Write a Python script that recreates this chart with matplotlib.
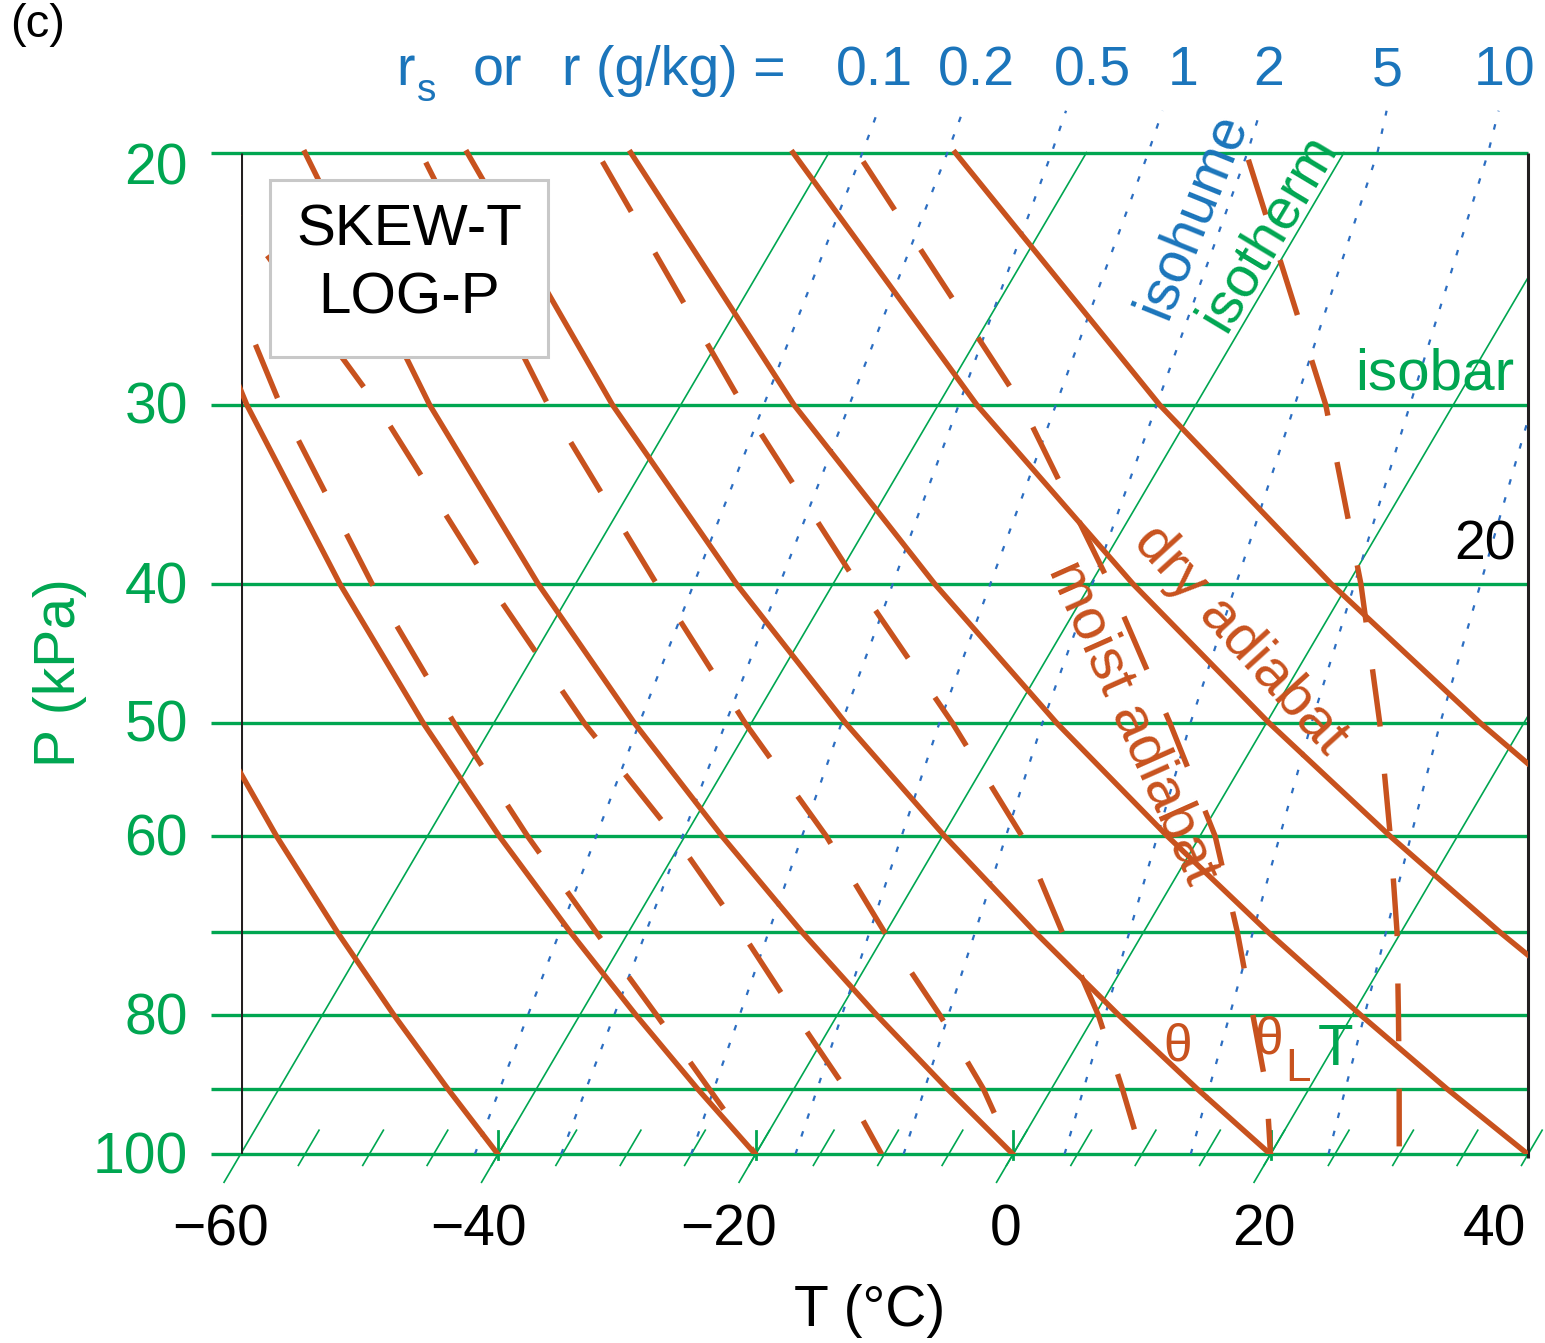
import numpy as np
import matplotlib
matplotlib.use("Agg")
import matplotlib.pyplot as plt
from matplotlib.patches import Rectangle

plt.rcParams['font.family'] = ['Liberation Sans', 'DejaVu Sans']
plt.rcParams['lines.scale_dashes'] = False

W, H = 1545, 1343
SKEW = 28.4          # degC of x shift per unit ln(100/P)

BROWN = '#C8521E'
GREEN = '#00A651'
BLUE = '#1B75BB'
DOT_BLUE = '#2C6EC2'

# pressure levels (kPa) where the adiabats were read
p_levels = [100, 90, 80, 70, 60, 50, 40, 30, 20]

# dry adiabats (solid), T in degC at each level
dry_T = [
    [-40.0, -46.9, -54.4, -62.6, -71.7, -81.9, -93.7, -107.9, -125.9],
    [-20.0, -27.5, -35.6, -44.5, -54.4, -65.5, -78.3, -93.7, -113.3],
    [0.0, -8.1, -16.9, -26.5, -37.1, -49.1, -62.9, -79.5, -100.7],
    [20.0, 11.3, 1.9, -8.4, -19.8, -32.7, -47.5, -65.3, -88.1],
    [40.0, 30.7, 20.7, 9.7, -2.5, -16.3, -32.1, -51.2, -75.4],
    [60.0, 50.1, 39.4, 27.7, 14.8, 0.2, -16.7, -37.0, -62.8],
    [80.0, 69.5, 58.2, 45.8, 32.1, 16.6, -1.3, -22.8, -50.2],
]

# moist adiabats (dashed), T in degC at each level
moist_T = [
    [-20.0, -26.6, -34.0, -42.5, -52.2, -63.1, -75.8, -91.1, -110.7],
    [-10.2, -16.0, -23.2, -31.2, -40.8, -53.0, -66.7, -83.6, -109.5],
    [0.0, -5.3, -12.0, -20.1, -29.0, -40.5, -53.7, -70.3, -91.7],
    [10.0, 5.5, 0.3, -6.3, -13.8, -24.4, -38.1, -55.2, -78.0],
    [20.0, 16.7, 12.3, 7.3, 1.2, -7.5, -18.5, -33.5, -57.8],
    [30.0, 27.0, 23.6, 19.7, 14.8, 8.8, 1.0, -9.9, -27.6],
]
moist_dash_offset = [36, 14, 43, 57, 16, 70]

# isohumes (dotted), mixing ratio in g/kg, T in degC at r_p
r_values = [0.1, 0.2, 0.5, 1, 2, 5, 10, 20]
r_p = [100, 50, 20, 18.7]
r_T = [
    [-41.8, -48.7, -57.4, -58.1],
    [-35.1, -42.0, -50.8, -51.5],
    [-25.0, -33.0, -42.7, -43.5],
    [-16.9, -25.4, -35.2, -36.0],
    [-8.5, -17.4, -27.5, -28.4],
    [4.0, -5.9, -17.4, -18.6],
    [13.8, 3.5, -8.8, -9.9],
    [24.5, 13.5, 0.3, -0.5],
]
r_labels = ['0.1', '0.2', '0.5', '1', '2', '5', '10']
r_label_x = [874, 976, 1093, 1183, 1269, 1387, 1505]

isobars = [20, 30, 40, 50, 60, 70, 80, 90, 100]
isobar_labels = [20, 30, 40, 50, 60, 80, 100]
isotherms = [-60, -40, -20, 0, 20]
t_labels = ['\u221260', '\u221240', '\u221220', '0', '20', '40']
t_label_x = [221, 479, 729, 1006, 1264, 1494]


def skew(T, p):
    return np.asarray(T, float) + SKEW * np.log(100.0 / np.asarray(p, float))


def fx(px):
    return px / W


def fy(py):
    return 1 - py / H


fig = plt.figure(figsize=(W / 100, H / 100), dpi=100)
ax = fig.add_axes([fx(240.5), fy(1154.3), (1528 - 240.5) / W, (1154.3 - 100) / H])
ax.set_xlim(-60, 40)
ax.set_yscale('log')
ax.set_ylim(100, 18.38)
ax.set_axis_off()

# isotherms
for T in isotherms:
    ax.plot(skew([T, T], [100, 20]), [100, 20], color=GREEN, lw=1.2, zorder=1)
    ax.plot(skew([T, T], [100, 104.6]), [100, 104.6], color=GREEN, lw=1.2,
            zorder=1, clip_on=False)
for T in np.arange(-55, 41, 5):
    ax.plot(skew([T, T], [101.8, 96.2]), [101.8, 96.2], color=GREEN, lw=1.2,
            zorder=1, clip_on=False)
for T in [-40, -20, 0, 20]:
    ax.plot([T, T], [100.8, 96.4], color=GREEN, lw=2, zorder=1, clip_on=False)

# isobars
for p in isobars:
    ax.plot([-62.3, 40], [p, p], color=GREEN, lw=2.4, zorder=2, clip_on=False,
            solid_capstyle='butt')
for p in isobar_labels:
    dy = -23 if p == 20 else -13.7
    ax.annotate(str(p), xy=(-60, p), xytext=(-37.8, dy), textcoords='offset points',
                ha='right', va='baseline', fontsize=41, color=GREEN)

# frame
ax.plot([-60, -60], [100, 20], color='#231F20', lw=2.2, zorder=3, solid_capstyle='butt')
ax.plot([40, 40], [100.6, 20], color='#231F20', lw=2.2, zorder=3, clip_on=False,
        solid_capstyle='butt')

# isohumes
for row in r_T:
    ax.plot(skew(row, r_p), r_p, color=DOT_BLUE, lw=1.6, zorder=3,
            linestyle=(0, (4.0, 9.5)))

# adiabats
for row in dry_T:
    ax.plot(skew(row, p_levels), p_levels, color=BROWN, lw=3.9, zorder=4)
for row, off in zip(moist_T, moist_dash_offset):
    ax.plot(skew(row, p_levels), p_levels, color=BROWN, lw=3.9, zorder=4,
            linestyle=(off, (41.6, 34.1)))

# title box
box = Rectangle((fx(270), fy(357)), (548 - 270) / W, (357 - 180) / H,
                transform=fig.transFigure, facecolor='white', edgecolor='#C8C8C8',
                lw=2.2, zorder=10)
fig.add_artist(box)
fig.text(fx(409), fy(230), 'SKEW-T', ha='center', va='center', fontsize=42, zorder=11)
fig.text(fx(409), fy(298), 'LOG-P', ha='center', va='center', fontsize=42, zorder=11)

# axis texts
for lab, x in zip(t_labels, t_label_x):
    fig.text(fx(x), fy(1246), lab, ha='center', va='baseline', fontsize=41)
fig.text(fx(870), fy(1326), 'T (\u00b0C)', ha='center', va='baseline', fontsize=41)
fig.text(fx(75), fy(673), 'P (kPa)', rotation=90, rotation_mode='anchor',
         ha='center', va='baseline', fontsize=41, color=GREEN)
fig.text(fx(10), fy(37), '(c)', ha='left', va='baseline', fontsize=34)

# mixing ratio header
fig.text(fx(396), fy(85), 'r', ha='left', va='baseline', fontsize=40, color=BLUE)
fig.text(fx(417), fy(101), 's', ha='left', va='baseline', fontsize=28, color=BLUE)
fig.text(fx(473), fy(85), 'or', ha='left', va='baseline', fontsize=40, color=BLUE)
fig.text(fx(562), fy(85), 'r (g/kg) =', ha='left', va='baseline', fontsize=40, color=BLUE)
for lab, x in zip(r_labels, r_label_x):
    fig.text(fx(x), fy(85), lab, ha='center', va='baseline', fontsize=40, color=BLUE)

# line labels
fig.text(fx(1192), fy(215), 'isohume', rotation=68, rotation_mode='anchor',
         ha='center', va='center', fontsize=41, color=BLUE, zorder=11)
fig.text(fx(1268), fy(232), 'isotherm', rotation=59, rotation_mode='anchor',
         ha='center', va='center', fontsize=41, color=GREEN, zorder=11)
fig.text(fx(1355), fy(390), 'isobar', ha='left', va='baseline', fontsize=42,
         color=GREEN, zorder=11)
fig.text(fx(1240), fy(640), 'dry adiabat', rotation=-47.7, rotation_mode='anchor',
         ha='center', va='center', fontsize=42, color=BROWN, zorder=11)
fig.text(fx(1133), fy(722), 'moist adiabat', rotation=-66, rotation_mode='anchor',
         ha='center', va='center', fontsize=42, color=BROWN, zorder=11)
fig.text(fx(1178), fy(1047), '\u03b8', ha='center', va='center', fontsize=37,
         color=BROWN, zorder=11)
fig.text(fx(1269), fy(1040), '\u03b8', ha='center', va='center', fontsize=37,
         color=BROWN, zorder=11)
fig.text(fx(1298), fy(1081), 'L', ha='center', va='baseline', fontsize=33,
         color=BROWN, zorder=11)
fig.text(fx(1336), fy(1065), 'T', ha='center', va='baseline', fontsize=42,
         color=GREEN, zorder=11)
fig.text(fx(1485), fy(560), '20', ha='center', va='baseline', fontsize=40,
         color='black', zorder=11)

fig.savefig('out.png', dpi=100)
